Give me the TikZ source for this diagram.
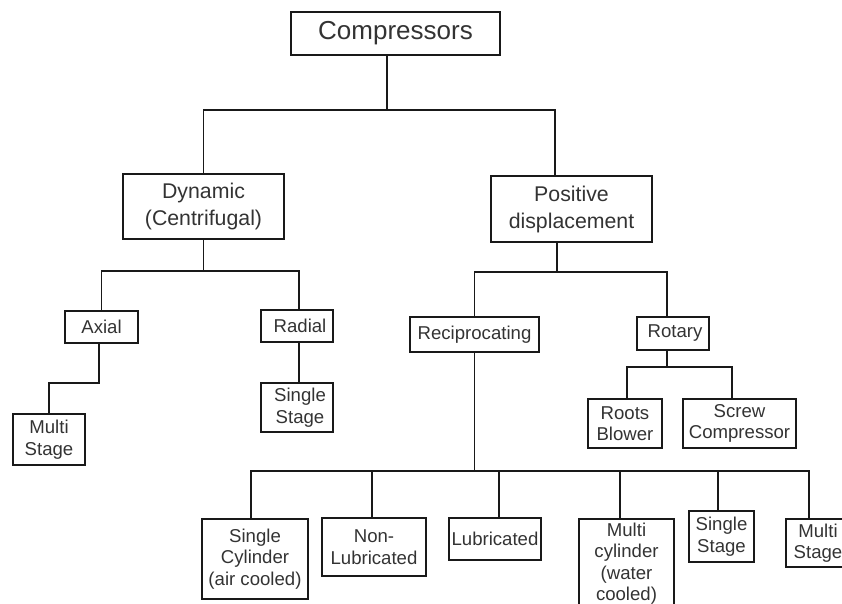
\documentclass[tikz,border=0pt]{standalone}
\usepackage{fontspec}
\setmainfont{Liberation Sans}
\begin{document}
\begin{tikzpicture}[x=1pt,y=-1pt,
  box/.style={draw=black!90, line width=1.5pt, inner sep=0pt, align=center, text=black!80,
    font=\fontsize{18.6}{21.5}\selectfont},
  mid/.style={font=\fontsize{21.3}{27}\selectfont},
  big/.style={font=\fontsize{26}{30}\selectfont},
  link/.style={draw=black!90, line width=1.5pt}]
\useasboundingbox (0,0) rectangle (842,604);
\clip (0,0) rectangle (842,604);
% nodes
\node[box,big,minimum width=209pt,minimum height=43pt] (comp) at (395.5,33.5) {Compressors};
\node[box,mid,minimum width=161pt,minimum height=65pt] (dyn) at (203.5,206.5) {Dynamic\\(Centrifugal)};
\node[box,mid,minimum width=161pt,minimum height=66pt] (pos) at (571.5,209) {Positive\\displacement};
\node[box,minimum width=73pt,minimum height=32pt] (axial) at (101.5,327) {Axial};
\node[box,minimum width=72pt,minimum height=32pt] (radial) at (297,326) {\hspace*{6pt}Radial};
\node[box,minimum width=72pt,minimum height=51pt] (multiA) at (49,439.5) {Multi\\Stage};
\node[box,minimum width=72pt,minimum height=49pt] (singleR) at (297,407.5) {\hspace*{6pt}Single\\\hspace*{6pt}Stage};
\node[box,minimum width=129pt,minimum height=35pt] (recip) at (474.5,334.5) {Reciprocating};
\node[box,minimum width=72pt,minimum height=33pt] (rotary) at (673,333.5) {\hspace*{4pt}Rotary};
\node[box,minimum width=74pt,minimum height=49pt] (roots) at (625,423.5) {Roots\\Blower};
\node[box,minimum width=113pt,minimum height=49pt] (screw) at (739.5,423.5) {Screw\\Compressor};
\node[box,minimum width=106pt,minimum height=80pt] (scyl) at (255,559) {Single\\Cylinder\\(air cooled)};
\node[box,minimum width=104pt,minimum height=58pt] (nonlub) at (374,547) {Non-\\Lubricated};
\node[box,minimum width=92pt,minimum height=42pt] (lub) at (495,539) {Lubricated};
\node[box,minimum width=95pt,minimum height=89pt] (mcyl) at (626.5,563.5) {Multi\\cylinder\\(water\\cooled)};
\node[box,minimum width=65pt,minimum height=51pt] (sstage) at (721.5,536.5) {Single\\Stage};
\node[box,minimum width=64pt,minimum height=48pt] (mstage) at (818,543) {Multi\\Stage};
% connection points
\coordinate (compB) at ([xshift=-8.5pt]comp.south);
\coordinate (dynT) at (dyn.north);
\coordinate (posT) at ([xshift=-16.5pt]pos.north);
\coordinate (dynB) at (dyn.south);
\coordinate (axialT) at (axial.north);
\coordinate (radialT) at ([xshift=2pt]radial.north);
\coordinate (axialB) at ([xshift=-2.5pt]axial.south);
\coordinate (multiAT) at (multiA.north);
\coordinate (radialB) at ([xshift=2pt]radial.south);
\coordinate (singleRT) at ([xshift=2pt]singleR.north);
\coordinate (posB) at ([xshift=-14.5pt]pos.south);
\coordinate (recipT) at (recip.north);
\coordinate (rotaryT) at ([xshift=-6pt]rotary.north);
\coordinate (rotaryB) at ([xshift=-6pt]rotary.south);
\coordinate (rootsT) at ([xshift=2pt]roots.north);
\coordinate (screwT) at ([xshift=-7.5pt]screw.north);
\coordinate (recipB) at (recip.south);
\coordinate (scylT) at ([xshift=-4pt]scyl.north);
\coordinate (nonlubT) at ([xshift=-2pt]nonlub.north);
\coordinate (lubT) at ([xshift=4pt]lub.north);
\coordinate (mcylT) at ([xshift=-6.5pt]mcyl.north);
\coordinate (sstageT) at ([xshift=-3.5pt]sstage.north);
\coordinate (mstageT) at ([xshift=-9pt]mstage.north);
% bus levels
\coordinate (b1) at (0,110);
\coordinate (b2) at (0,271);
\coordinate (b3) at (0,272);
\coordinate (b4) at (0,383);
\coordinate (b5) at (0,367);
\coordinate (b6) at (0,471);
% connectors
\draw[link] (compB) |- (b1 -| dynT) -- (dynT);
\draw[link] (compB) |- (b1 -| posT) -- (posT);
\draw[link] (dynB) |- (b2 -| axialT) -- (axialT);
\draw[link] (dynB) |- (b2 -| radialT) -- (radialT);
\draw[link] (axialB) |- (b4 -| multiAT) -- (multiAT);
\draw[link] (radialB) -- (singleRT);
\draw[link] (posB) |- (b3 -| recipT) -- (recipT);
\draw[link] (posB) |- (b3 -| rotaryT) -- (rotaryT);
\draw[link] (rotaryB) |- (b5 -| rootsT) -- (rootsT);
\draw[link] (rotaryB) |- (b5 -| screwT) -- (screwT);
\draw[link] (recipB) |- (b6 -| scylT) -- (scylT);
\draw[link] (recipB) |- (b6 -| nonlubT) -- (nonlubT);
\draw[link] (recipB) |- (b6 -| lubT) -- (lubT);
\draw[link] (recipB) |- (b6 -| mcylT) -- (mcylT);
\draw[link] (recipB) |- (b6 -| sstageT) -- (sstageT);
\draw[link] (recipB) |- (b6 -| mstageT) -- (mstageT);
\end{tikzpicture}
\end{document}
